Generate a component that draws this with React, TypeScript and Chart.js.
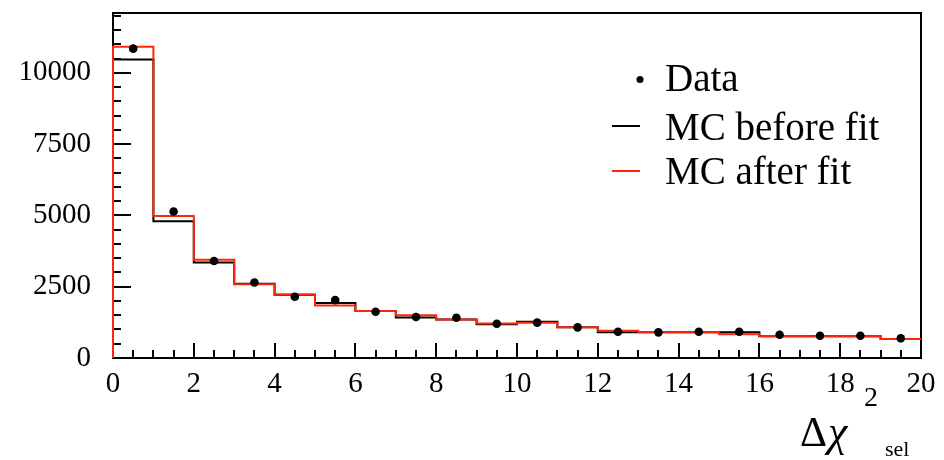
import { useEffect, useRef } from "react";
import { Chart, registerables } from "chart.js";

Chart.register(...registerables);

// Bin edges 0..20 (unit width bins)
const binLow = [0, 1, 2, 3, 4, 5, 6, 7, 8, 9, 10, 11, 12, 13, 14, 15, 16, 17, 18, 19];
const dataValues = [10850, 5140, 3400, 2650, 2150, 2030, 1620, 1440, 1410, 1200, 1240, 1075, 920, 900, 920, 920, 815, 780, 780, 690];
const mcBefore = [10470, 4800, 3350, 2600, 2220, 1930, 1650, 1420, 1350, 1180, 1270, 1080, 900, 900, 900, 900, 760, 760, 760, 665];
const mcAfter = [10920, 4980, 3450, 2590, 2230, 1840, 1650, 1500, 1350, 1210, 1235, 1075, 955, 900, 900, 830, 760, 760, 760, 665];
const yTickValues = [0, 2500, 5000, 7500, 10000];
const xTickValues = [0, 2, 4, 6, 8, 10, 12, 14, 16, 18, 20];
const labels = ["Data", "MC before fit", "MC after fit"];

const X_MIN = 0;
const X_MAX = 20;
const Y_MAX = 12100;
const RED = "rgb(255,38,8)";
const SERIF = '"Liberation Serif", "Times New Roman", serif';

function stepPoints(vals: number[]) {
  const pts = [{ x: binLow[0], y: 0 }];
  vals.forEach((v, i) => pts.push({ x: binLow[i], y: v }));
  pts.push({ x: X_MAX, y: vals[vals.length - 1] });
  return pts;
}

const framePlugin = {
  id: "rootFrame",
  beforeDatasetsDraw(chart: any) {
    const { ctx, chartArea: a, scales } = chart;
    const x = scales.x;
    const y = scales.y;
    ctx.save();
    ctx.strokeStyle = "#000";
    ctx.lineWidth = 2;
    ctx.strokeRect(a.left, a.top, a.right - a.left, a.bottom - a.top);
    ctx.beginPath();
    for (let v = 0; v <= Y_MAX; v += 500) {
      const py = Math.round(y.getPixelForValue(v));
      const len = v % 2500 === 0 ? 18 : 8;
      ctx.moveTo(a.left, py);
      ctx.lineTo(a.left + len, py);
    }
    for (let v = X_MIN; v <= X_MAX; v += 0.5) {
      const px = Math.round(x.getPixelForValue(v));
      const len = v % 2 === 0 ? 15 : 8;
      ctx.moveTo(px, a.bottom);
      ctx.lineTo(px, a.bottom - len);
    }
    ctx.stroke();
    ctx.restore();
  },
};

const legendPlugin = {
  id: "rootLegend",
  afterDatasetsDraw(chart: any) {
    const { ctx } = chart;
    const ds = chart.data.datasets;
    ctx.save();
    ctx.font = `39px ${SERIF}`;
    ctx.fillStyle = "#000";
    ctx.textBaseline = "alphabetic";
    ctx.textAlign = "left";
    const rows = [
      { base: 91, mark: 79.5 },
      { base: 140, mark: 126 },
      { base: 184, mark: 171 },
    ];
    // Data
    ctx.beginPath();
    ctx.arc(640, rows[0].mark, 3.5, 0, Math.PI * 2);
    ctx.fill();
    ctx.fillText(ds[0].label, 665, rows[0].base);
    // MC before
    ctx.strokeStyle = "#000";
    ctx.lineWidth = 2;
    ctx.beginPath();
    ctx.moveTo(612, rows[1].mark);
    ctx.lineTo(640, rows[1].mark);
    ctx.stroke();
    ctx.fillText(ds[2].label, 665, rows[1].base);
    // MC after
    ctx.strokeStyle = RED;
    ctx.beginPath();
    ctx.moveTo(612, rows[2].mark);
    ctx.lineTo(640, rows[2].mark);
    ctx.stroke();
    ctx.fillText(ds[1].label, 665, rows[2].base);
    ctx.restore();
  },
};

const titlePlugin = {
  id: "rootTitle",
  afterDraw(chart: any) {
    const { ctx } = chart;
    ctx.save();
    ctx.fillStyle = "#000";
    ctx.textBaseline = "alphabetic";
    ctx.textAlign = "left";
    ctx.font = `42px ${SERIF}`;
    ctx.fillText("\u0394", 800, 446);
    ctx.font = `italic 44px ${SERIF}`;
    ctx.fillText("\u03c7", 828, 446);
    ctx.font = `28px ${SERIF}`;
    ctx.fillText("2", 864, 406);
    ctx.font = `22px ${SERIF}`;
    ctx.fillText("sel", 885, 456);
    ctx.restore();
  },
};

export default function App() {
  const ref = useRef<HTMLCanvasElement | null>(null);

  useEffect(() => {
    if (!ref.current) return;
    const chart = new Chart(ref.current, {
      type: "line",
      data: {
        datasets: [
          {
            type: "scatter",
            label: labels[0],
            data: dataValues.map((v, i) => ({ x: binLow[i] + 0.5, y: v })),
            pointRadius: 4.3,
            pointBackgroundColor: "#000",
            pointBorderColor: "#000",
            pointBorderWidth: 0,
            showLine: false,
          } as any,
          {
            label: labels[2],
            data: stepPoints(mcAfter),
            stepped: "before",
            borderColor: RED,
            borderWidth: 2,
            pointRadius: 0,
            fill: false,
            clip: false,
          } as any,
          {
            label: labels[1],
            data: stepPoints(mcBefore),
            stepped: "before",
            borderColor: "#000",
            borderWidth: 2,
            pointRadius: 0,
            fill: false,
            clip: false,
          } as any,
        ],
      },
      options: {
        animation: false,
        responsive: false,
        devicePixelRatio: 1,
        layout: { padding: { top: 13, right: 23, left: 0, bottom: 0 } },
        plugins: { legend: { display: false }, tooltip: { enabled: false } },
        scales: {
          x: {
            type: "linear",
            min: X_MIN,
            max: X_MAX,
            grid: { display: false, drawTicks: false },
            border: { display: false },
            ticks: {
              color: "#000",
              font: { family: SERIF, size: 29 },
              padding: 9,
              maxRotation: 0,
              autoSkip: false,
              callback: (v: any) => String(v),
            },
            afterBuildTicks: (s: any) => {
              s.ticks = xTickValues.map((v) => ({ value: v }));
            },
            afterFit: (s: any) => {
              s.height = 102;
              s.paddingLeft = 0;
              s.paddingRight = 0;
            },
          },
          y: {
            type: "linear",
            min: 0,
            max: Y_MAX,
            grid: { display: false, drawTicks: false },
            border: { display: false },
            ticks: {
              color: "#000",
              font: { family: SERIF, size: 29 },
              padding: 22,
              callback: (v: any) => String(v),
            },
            afterBuildTicks: (s: any) => {
              s.ticks = yTickValues.map((v) => ({ value: v }));
            },
            afterFit: (s: any) => {
              s.width = 113;
              s.paddingTop = 0;
              s.paddingBottom = 0;
            },
          },
        },
      },
      plugins: [framePlugin, legendPlugin, titlePlugin],
    });
    return () => chart.destroy();
  }, []);

  return (
    <div style={{ position: "absolute", left: 0, top: 0, width: 944, height: 460, background: "#fff" }}>
      <canvas ref={ref} width={944} height={460} style={{ display: "block" }} />
    </div>
  );
}
